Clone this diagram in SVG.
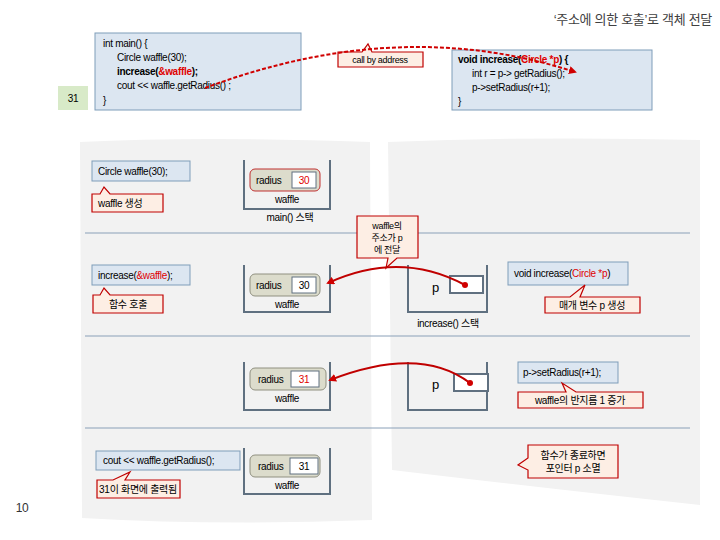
<svg xmlns="http://www.w3.org/2000/svg" width="720" height="540" viewBox="0 0 720 540">
<style>
text{font-family:"Liberation Sans","Noto Sans CJK KR",sans-serif;font-size:10px;fill:#000;letter-spacing:-0.3px}
.code{fill:#dce6f1;stroke:#7f9db9;stroke-width:1}
.call{fill:#fdeee4;stroke:#c00000;stroke-width:1.2}
.stk{fill:none;stroke:#5f7080;stroke-width:2}
.obj{fill:#dcdccc;stroke:#c03030;stroke-width:1}
.obj2{fill:#dcdccc;stroke:#909080;stroke-width:1}
.val{fill:#fff;stroke:#607080;stroke-width:1}
.sep{stroke:#8aa0b8;stroke-width:1}
.red{fill:#e00000}
.c{text-anchor:middle}
</style>
<defs>
<marker id="ah" markerWidth="8" markerHeight="8" refX="6" refY="4" orient="auto" markerUnits="userSpaceOnUse"><path d="M0,0L8,4L0,8z" fill="#d00000"/></marker>
</defs>
<g id="panels">
<path d="M80,142 Q200,136 370,142 L372,520 Q220,526 82,518 Z" fill="#f2f2f2"/>
<path d="M388,142 Q540,136 700,140 L700,505 Q560,490 392,470 Z" fill="#f2f2f2"/>
</g>
<text x="712" y="24" style="font-size:13px;fill:#404040;text-anchor:end">‘주소에 의한 호출’로 객체 전달</text>
<g id="main-code">
<rect class="code" x="95" y="33" width="206" height="77"/>
<text x="103" y="47">int main() {</text>
<text x="117" y="61">Circle waffle(30);</text>
<text x="117" y="75"><tspan font-weight="bold">increase(</tspan><tspan font-weight="bold" class="red">&amp;waffle</tspan><tspan font-weight="bold">);</tspan></text>
<text x="117" y="89">cout &lt;&lt; waffle.getRadius() ;</text>
<text x="103" y="104">}</text>
</g>
<g id="out31"><rect x="58" y="86" width="30" height="24" fill="#d8eac8"/><text x="73" y="102" class="c">31</text></g>
<g id="inc-code">
<rect class="code" x="452" y="50" width="200" height="60"/>
<text x="458" y="63"><tspan font-weight="bold">void increase(</tspan><tspan font-weight="bold" class="red">Circle *p</tspan><tspan font-weight="bold">) {</tspan></text>
<text x="472" y="77">int r = p-&gt; getRadius();</text>
<text x="472" y="91">p-&gt;setRadius(r+1);</text>
<text x="458" y="105">}</text>
</g>
<g id="cba"><path class="call" d="M338,52 L362,52 L368,44 L372,52 L423,52 L423,67 L338,67 Z"/><text x="380" y="63" class="c" style="font-size:9px">call by address</text></g>
<g id="seps"><line class="sep" x1="85" y1="233" x2="690" y2="233"/><line class="sep" x1="85" y1="336" x2="690" y2="336"/><line class="sep" x1="85" y1="428" x2="690" y2="428"/></g>
<g id="row1">
<rect class="code" x="92" y="161" width="98" height="20"/><text x="98" y="175">Circle waffle(30);</text>
<path class="call" d="M92,194 L100,194 L104,187 L110,194 L163,194 L163,212 L92,212 Z"/><text x="98" y="207">waffle 생성</text>
<path class="stk" d="M244,160 V209 H330 V160"/>
<rect class="obj" x="250" y="169" width="70" height="22" rx="5"/><text x="256" y="184">radius</text>
<rect class="val" x="292" y="172" width="24" height="16"/><text x="304" y="184" class="c red">30</text>
<text x="287" y="203" class="c">waffle</text><text x="290" y="221" class="c">main() 스택</text>
</g>
<g id="callout-addr"><path class="call" d="M357,216 H418 V258 H397 L386,268 L388,258 H357 Z"/>
<text x="387" y="229" class="c" style="font-size:9px">waffle의</text><text x="387" y="241" class="c" style="font-size:9px">주소가 p</text><text x="387" y="253" class="c" style="font-size:9px">에 전달</text></g>
<g id="row2">
<rect class="code" x="92" y="265" width="98" height="20"/><text x="98" y="279">increase(<tspan class="red">&amp;waffle</tspan>);</text>
<path class="call" d="M93,295 L100,295 L104,288 L110,295 L163,295 L163,313 L93,313 Z"/><text x="128" y="308" class="c">함수 호출</text>
<path class="stk" d="M244,265 V312 H330 V265"/>
<rect class="obj2" x="250" y="274" width="70" height="22" rx="5"/><text x="256" y="289">radius</text>
<rect class="val" x="292" y="277" width="24" height="16"/><text x="304" y="289" class="c">30</text>
<text x="287" y="308" class="c">waffle</text>
<path class="stk" d="M408,265 V312 H487 V265"/>
<text x="432" y="292" style="font-size:13px">p</text><rect class="val" x="450" y="276" width="33" height="17" style="stroke-width:2"/>
<text x="448" y="327" class="c">increase() 스택</text>
<rect class="code" x="508" y="262" width="120" height="23"/><text x="514" y="277">void increase(<tspan class="red">Circle *p</tspan>)</text>
<path class="call" d="M545,297 L570,297 L585,285 L580,297 L640,297 L640,313 L545,313 Z"/><text x="592" y="309" class="c">매개 변수 p 생성</text>
</g>
<g id="row3">
<path class="stk" d="M244,362 V410 H330 V362"/>
<rect class="obj2" x="250" y="368" width="76" height="22" rx="5"/><text x="258" y="383">radius</text>
<rect class="val" x="291" y="371" width="28" height="16"/><text x="304" y="383" class="c red">31</text>
<text x="287" y="402" class="c">waffle</text>
<path class="stk" d="M408,362 V410 H487 V362"/>
<text x="432" y="389" style="font-size:13px">p</text><rect class="val" x="454" y="374" width="34" height="17" style="stroke-width:2"/>
<rect class="code" x="518" y="362" width="100" height="21"/><text x="523" y="376">p-&gt;setRadius(r+1);</text>
<path class="call" d="M518,392 L566,392 L562,383 L576,392 L643,392 L643,408 L518,408 Z"/><text x="580" y="404" class="c">waffle의 반지름 1 증가</text>
</g>
<g id="row4">
<rect class="code" x="96" y="451" width="144" height="19"/><text x="103" y="464">cout &lt;&lt; waffle.getRadius();</text>
<path class="call" d="M97,480 L113,480 L130,472 L125,480 L180,480 L180,498 L97,498 Z"/><text x="138" y="493" class="c">31이 화면에 출력됨</text>
<path class="stk" d="M244,448 V494 H330 V448"/>
<rect class="obj2" x="250" y="455" width="70" height="22" rx="5"/><text x="258" y="470">radius</text>
<rect class="val" x="290" y="458" width="28" height="16"/><text x="304" y="470" class="c">31</text>
<text x="287" y="489" class="c">waffle</text>
<path class="call" d="M528,445 H618 V478 H528 V470 L518,465 L528,458 Z"/><text x="573" y="459" class="c">함수가 종료하면</text><text x="573" y="472" class="c">포인터 p 소멸</text>
</g>
<g id="connectors">
<path d="M205,88 Q400,15 575,72" fill="none" stroke="#d00000" stroke-width="2" stroke-dasharray="4,2" marker-end="url(#ah)"/>
<path d="M465,285 Q400,250 328,283" fill="none" stroke="#c00000" stroke-width="2" marker-end="url(#ah)"/>
<circle cx="465" cy="285" r="3" fill="#d00000"/>
<path d="M470,383 Q420,345 330,380" fill="none" stroke="#c00000" stroke-width="2" marker-end="url(#ah)"/>
<circle cx="470" cy="383" r="3" fill="#d00000"/>
</g>
<text x="22" y="512" class="c" style="font-size:12px;fill:#333">10</text>
</svg>
